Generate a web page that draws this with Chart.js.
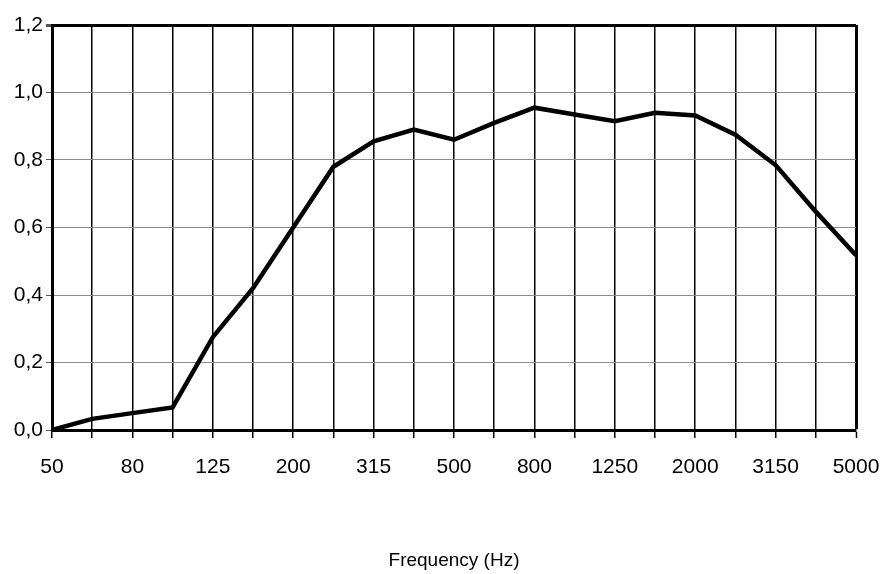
<!DOCTYPE html>
<html>
<head>
<meta charset="utf-8">
<script src="https://cdn.jsdelivr.net/npm/chart.js@4.4.1/dist/chart.umd.min.js"></script>
<style>
  html, body { margin: 0; padding: 0; background: #fff; }
  #wrap { width: 882px; height: 574px; }
</style>
</head>
<body>
<div id="wrap"><canvas id="absorptionChart" width="882" height="574"></canvas></div>
<script>
// 1/3 octave band centre frequencies (Hz)
const frequencies = ['50', '63', '80', '100', '125', '160', '200', '250', '315', '400', '500',
    '630', '800', '1000', '1250', '1600', '2000', '2500', '3150', '4000', '5000'];

// sound absorption coefficient
const absorption = [0.00, 0.033, 0.05, 0.067, 0.275, 0.42, 0.60, 0.78, 0.855, 0.89, 0.86,
    0.91, 0.955, 0.935, 0.915, 0.94, 0.932, 0.875, 0.785, 0.647, 0.518];

const yTicks = [0, 0.2, 0.4, 0.6, 0.8, 1.0, 1.2];

const axisFont = { family: '"Liberation Sans", Arial, sans-serif', size: 21 };

const ctx = document.getElementById('absorptionChart').getContext('2d');

new Chart(ctx, {
    type: 'line',
    data: {
        labels: frequencies,
        datasets: [{
            data: absorption,
            borderColor: '#000',
            borderWidth: 4.5,
            pointRadius: 0,
            tension: 0,
            fill: false
        }]
    },
    options: {
        responsive: false,
        animation: false,
        devicePixelRatio: 1,
        layout: {
            padding: { left: 0, right: 26, top: 25, bottom: 0 }
        },
        plugins: {
            legend: { display: false },
            tooltip: { enabled: false }
        },
        scales: {
            x: {
                offset: false,
                grid: {
                    color: '#000',
                    lineWidth: context => (context.index === frequencies.length - 1 ? 3 : 1.5),
                    tickLength: 8,
                    tickColor: '#000',
                    tickWidth: 1.5
                },
                border: { color: '#000', width: 3 },
                ticks: {
                    autoSkip: false,
                    maxRotation: 0,
                    color: '#000',
                    font: axisFont,
                    padding: 17,
                    // only every other band is labelled
                    callback: function (value, index) {
                        return index % 2 === 0 ? this.getLabelForValue(value) : '';
                    }
                },
                title: {
                    display: true,
                    text: 'Frequency (Hz)',
                    color: '#000',
                    font: { family: '"Liberation Sans", Arial, sans-serif', size: 19 },
                    padding: { top: 0, bottom: 2 }
                },
                afterFit: scale => {
                    scale.height = 144;
                    // end labels may hang over the plot edges, as in the original
                    scale.paddingLeft = 0;
                    scale.paddingRight = 0;
                }
            },
            y: {
                min: 0,
                max: 1.2,
                afterBuildTicks: scale => {
                    scale.ticks = yTicks.map(v => ({ value: v }));
                },
                grid: {
                    color: context => (context.index === yTicks.length - 1 || context.index === 0 ? '#000' : '#8c8c8c'),
                    lineWidth: context => (context.index === yTicks.length - 1 ? 3 : 1),
                    tickLength: 6,
                    tickColor: '#555'
                },
                border: { color: '#000', width: 3 },
                ticks: {
                    color: '#000',
                    font: axisFont,
                    padding: 3,
                    callback: value => value.toFixed(1).replace('.', ',')
                },
                afterFit: scale => {
                    scale.width = 52;
                    scale.paddingTop = 0;
                    scale.paddingBottom = 0;
                }
            }
        }
    }
});
</script>
</body>
</html>
